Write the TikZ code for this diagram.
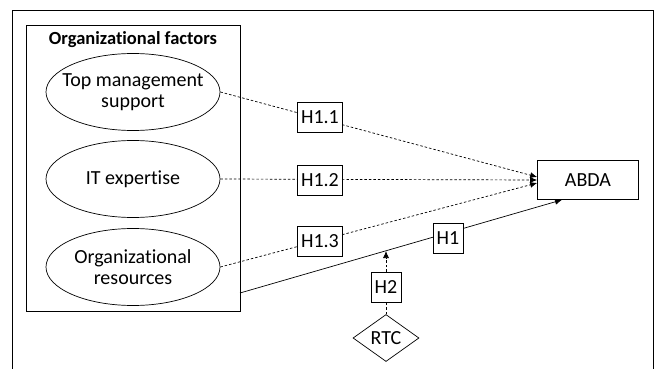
\documentclass[tikz,border=0pt]{standalone}
\usepackage{fontspec}
\setmainfont{Carlito}[Ligatures=NoCommon]
\usetikzlibrary{shapes.geometric,arrows.meta}

\tikzset{
  factor/.style={draw, ellipse, minimum width=174pt, minimum height=77pt, inner xsep=-10pt, inner ysep=0pt, align=center},
  hypo/.style={draw, fill=white, minimum height=30pt, inner sep=2pt},
  tip/.style={-{Latex[length=7pt,width=6pt]}},
  dots/.style={dash pattern=on 2.5pt off 2pt}
}

\begin{document}
\begin{tikzpicture}[x=1pt, y=-1pt, line width=0.7pt, font=\fontsize{20}{21}\selectfont] % 1pt = 1px, y nach unten
  \useasboundingbox (0,0) rectangle (657,369);
  \draw (12,369) -- (12,10) -- (653,10) -- (653,369); % aeusserer Rahmen, unten offen

  \node[draw, minimum width=214pt, minimum height=286pt, inner sep=0pt] (orgbox) at (133,168) {}; % Gruppe
  \node[font=\fontsize{18.5}{22}\selectfont\bfseries] (orgtitle) at (133,40) {Organizational factors};

  \node[factor] (topmgmt) at (133,92) {Top management\\support};
  \node[factor] (itexp) at (133,179) {IT expertise};
  \node[factor] (orgres) at (133,267) {Organizational\\resources};

  \node[draw, minimum width=101pt, minimum height=39pt] (abda) at (588,180) {ABDA};
  \node[draw, diamond, minimum width=66pt, minimum height=47pt, inner sep=0pt] (rtc) at (386,338) {RTC};

  \coordinate (h1start) at (240,293); % rechter Rand der Gruppe
  \coordinate (h2end) at (386,251); % trifft die H1-Linie

  \draw[dots, tip] (topmgmt.east) -- ([yshift=3pt]abda.west);
  \draw[dots, tip] (itexp.east) -- (abda.west);
  \draw[dots, tip] (orgres.east) -- ([yshift=-3pt]abda.west);
  \draw[tip] (h1start) -- ([xshift=-26pt]abda.south);

  \node[hypo, minimum width=45pt] (h11) at (320,117) {H1.1};
  \node[hypo, minimum width=45pt] (h12) at (320,180) {H1.2};
  \node[hypo, minimum width=45pt] (h13) at (320,241) {H1.3};
  \node[hypo, minimum width=30pt] (h1) at (448,238) {H1};
  \node[hypo, minimum width=30pt] (h2) at (386,287) {H2};

  \draw[dots] (rtc.north) -- (h2.south); % Moderator
  \draw[dots, tip] (h2.north) -- (h2end);
\end{tikzpicture}
\end{document}
